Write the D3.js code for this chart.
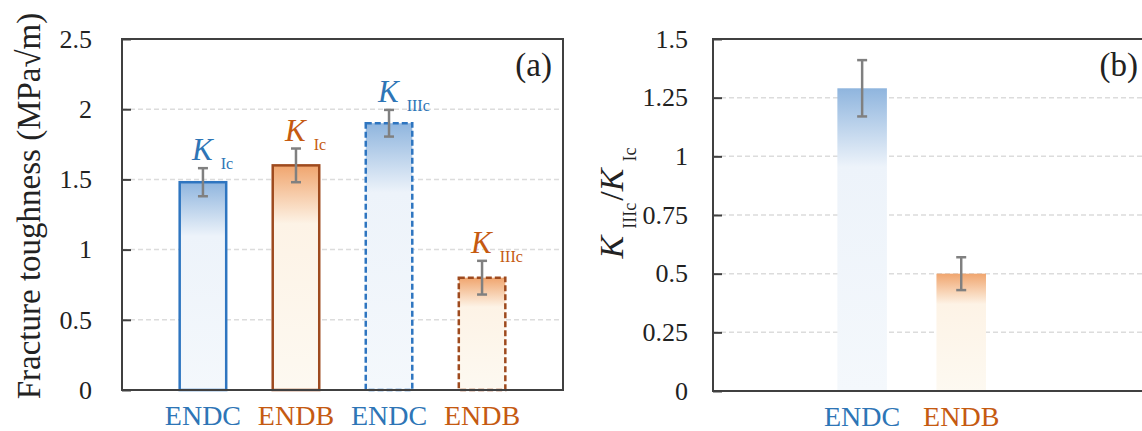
<!DOCTYPE html>
<html>
<head>
<meta charset="utf-8">
<script src="https://cdn.jsdelivr.net/npm/d3@7"></script>
<style>
  body { margin: 0; background: #fff; }
  svg, svg text { font-family: "Liberation Serif", "Times New Roman", serif; }
  svg { display: block; }
</style>
</head>
<body>
<svg id="chart" width="1142" height="431"></svg>
<script>
// panel (a) data
var groupsA = ["ENDC", "ENDB", "ENDC", "ENDB"];
var modesA = ["Ic", "Ic", "IIIc", "IIIc"];
var meanA = [1.48, 1.6, 1.9, 0.8];
var errA = [0.1, 0.12, 0.095, 0.12];
var ticksA = [0, 0.5, 1, 1.5, 2, 2.5];

// panel (b) data
var groupsB = ["ENDC", "ENDB"];
var ratioB = [1.29, 0.5];
var errB = [0.12, 0.07];
var ticksB = [0, 0.25, 0.5, 0.75, 1, 1.25, 1.5];

var TEXT = { ENDC: "#2e75b6", ENDB: "#c55a11" };
var STROKE = { ENDC: "#2e75c0", ENDB: "#9e4a1e" };
var GRAD = { ENDC: "gradBlue", ENDB: "gradOrange" };
var FRAME = "#404040";
var SERIF = "'Liberation Serif', 'Times New Roman', serif";

var svg = d3.select("#chart");

// gradients: darker at the top, fading quickly to a pale tint
var defs = svg.append("defs");
function gradient(id, top, mid, bottom) {
    var g = defs.append("linearGradient").attr("id", id)
        .attr("x1", 0).attr("y1", 0).attr("x2", 0).attr("y2", 1);
    g.append("stop").attr("offset", 0).attr("stop-color", top);
    g.append("stop").attr("offset", 0.26).attr("stop-color", mid);
    g.append("stop").attr("offset", 1).attr("stop-color", bottom);
}
gradient("gradBlue", "#8fb5de", "#edf3fa", "#f4f8fc");
gradient("gradOrange", "#f0a56e", "#fdf3e6", "#fdf9f1");

function panel(opts) {
    var g = svg.append("g");
    var y = d3.scaleLinear().domain(opts.domain).range([opts.bottom, opts.top]);
    var x = d3.scaleBand().domain(opts.keys).range([opts.left, opts.right])
        .paddingInner(opts.padIn).paddingOuter(opts.padOut).align(opts.align);

    // gridlines
    g.append("g").selectAll("line")
        .data(opts.ticks.slice(1, -1))
        .join("line")
        .attr("x1", opts.left).attr("x2", opts.right)
        .attr("y1", function (d) { return y(d); })
        .attr("y2", function (d) { return y(d); })
        .attr("stroke", "#dcdcdc").attr("stroke-width", 1.5)
        .attr("stroke-dasharray", "5,3");

    return { g: g, x: x, y: y };
}

function frame(p, opts) {
    p.g.append("rect")
        .attr("x", opts.left).attr("y", opts.top)
        .attr("width", opts.right - opts.left).attr("height", opts.bottom - opts.top)
        .attr("fill", "none").attr("stroke", FRAME).attr("stroke-width", 2);

    var ax = p.g.append("g")
        .attr("transform", "translate(" + opts.left + ",0)")
        .call(d3.axisLeft(p.y).tickValues(opts.ticks).tickSizeInner(-9).tickSizeOuter(0)
            .tickPadding(opts.tickPad).tickFormat(function (d) { return String(d); }));
    ax.attr("font-family", null).attr("font-size", null);
    ax.select(".domain").remove();
    ax.selectAll(".tick line").attr("stroke", FRAME).attr("stroke-width", 2);
    ax.selectAll(".tick text").style("font-size", "26px").attr("fill", "#222")
        .style("font-family", SERIF);
}

function errorBars(p, keys, means, errs) {
    var cx = function (i) { return p.x(keys[i]) + p.x.bandwidth() / 2; };
    var eb = p.g.append("g").attr("stroke", "#808080").attr("stroke-width", 2.5);
    eb.selectAll("line.v").data(means).join("line").attr("class", "v")
        .attr("x1", function (d, i) { return cx(i); }).attr("x2", function (d, i) { return cx(i); })
        .attr("y1", function (d, i) { return p.y(d + errs[i]); })
        .attr("y2", function (d, i) { return p.y(d - errs[i]); });
    [1, -1].forEach(function (s) {
        eb.append("g").selectAll("line").data(means).join("line")
            .attr("x1", function (d, i) { return cx(i) - 5; })
            .attr("x2", function (d, i) { return cx(i) + 5; })
            .attr("y1", function (d, i) { return p.y(d + s * errs[i]); })
            .attr("y2", function (d, i) { return p.y(d + s * errs[i]); });
    });
}

function categoryLabels(p, keys, groups, opts) {
    p.g.append("g").selectAll("text").data(keys).join("text")
        .attr("x", function (k) { return p.x(k) + p.x.bandwidth() / 2; })
        .attr("y", opts.bottom + 35)
        .attr("text-anchor", "middle")
        .style("font-family", SERIF)
        .style("font-size", "28px")
        .attr("fill", function (k, i) { return TEXT[groups[i]]; })
        .text(function (k, i) { return groups[i]; });
}

// ---------- panel (a) ----------
var keysA = groupsA.map(function (d, i) { return d + i; });
var optsA = { left: 122, right: 563, top: 39, bottom: 390, domain: [0, 2.5], ticks: ticksA,
    keys: keysA, padIn: 0.5, padOut: 0.62, align: 0.5, tickPad: 30 };
var pa = panel(optsA);

pa.g.append("g").selectAll("rect").data(meanA).join("rect")
    .attr("x", function (d, i) { return pa.x(keysA[i]); })
    .attr("y", function (d) { return pa.y(d); })
    .attr("width", pa.x.bandwidth())
    .attr("height", function (d) { return pa.y(0) - pa.y(d); })
    .attr("fill", function (d, i) { return "url(#" + GRAD[groupsA[i]] + ")"; })
    .attr("stroke", function (d, i) { return STROKE[groupsA[i]]; })
    .attr("stroke-width", 2.5)
    .attr("stroke-dasharray", function (d, i) { return modesA[i] === "IIIc" ? "6,3" : null; });

frame(pa, optsA);
errorBars(pa, keysA, meanA, errA);

// K labels over the bars
var kl = pa.g.append("g").selectAll("text").data(meanA).join("text")
    .attr("x", function (d, i) { return pa.x(keysA[i]) + pa.x.bandwidth() / 2 - 11; })
    .attr("y", function (d, i) { return pa.y(d + errA[i]) - 8; })
    .style("font-family", SERIF)
    .attr("fill", function (d, i) { return TEXT[groupsA[i]]; });
kl.append("tspan").attr("font-style", "italic").attr("font-size", 31).text("K");
kl.append("tspan").attr("font-size", 16).attr("dx", 8).attr("dy", 9)
    .text(function (d, i) { return modesA[i]; });

categoryLabels(pa, keysA, groupsA, optsA);

pa.g.append("text").attr("x", 552).attr("y", 76).attr("text-anchor", "end")
    .style("font-family", SERIF).attr("font-size", 33).attr("fill", "#222").text("(a)");

svg.append("text")
    .attr("transform", "translate(40," + 206 + ") rotate(-90)")
    .attr("text-anchor", "middle").style("font-family", SERIF)
    .attr("font-size", 33).attr("fill", "#222")
    .text("Fracture toughness (MPa\u221Am)");

// ---------- panel (b) ----------
var optsB = { left: 713, right: 1143, top: 39, bottom: 391, domain: [0, 1.5], ticks: ticksB,
    keys: groupsB, padIn: 0.5, padOut: 1.42, align: 0.442, tickPad: 25 };
var pb = panel(optsB);

pb.g.append("g").selectAll("rect").data(ratioB).join("rect")
    .attr("x", function (d, i) { return pb.x(groupsB[i]); })
    .attr("y", function (d) { return pb.y(d); })
    .attr("width", pb.x.bandwidth())
    .attr("height", function (d) { return pb.y(0) - pb.y(d); })
    .attr("fill", function (d, i) { return "url(#" + GRAD[groupsB[i]] + ")"; });

frame(pb, optsB);
errorBars(pb, groupsB, ratioB, errB);
categoryLabels(pb, groupsB, groupsB, optsB);

pb.g.append("text").attr("x", 1138).attr("y", 76).attr("text-anchor", "end")
    .style("font-family", SERIF).attr("font-size", 33).attr("fill", "#222").text("(b)");

var yl = svg.append("text")
    .attr("transform", "translate(623," + 203 + ") rotate(-90)")
    .attr("text-anchor", "middle").style("font-family", SERIF).attr("fill", "#222");
yl.append("tspan").attr("font-style", "italic").attr("font-size", 34).text("K");
yl.append("tspan").attr("font-size", 18).attr("dx", 7).attr("dy", 13).text("IIIc");
yl.append("tspan").attr("font-size", 34).attr("dx", 2).attr("dy", -13).text("/");
yl.append("tspan").attr("font-style", "italic").attr("font-size", 34).text("K");
yl.append("tspan").attr("font-size", 18).attr("dx", 7).attr("dy", 13).text("Ic");
</script>
</body>
</html>
